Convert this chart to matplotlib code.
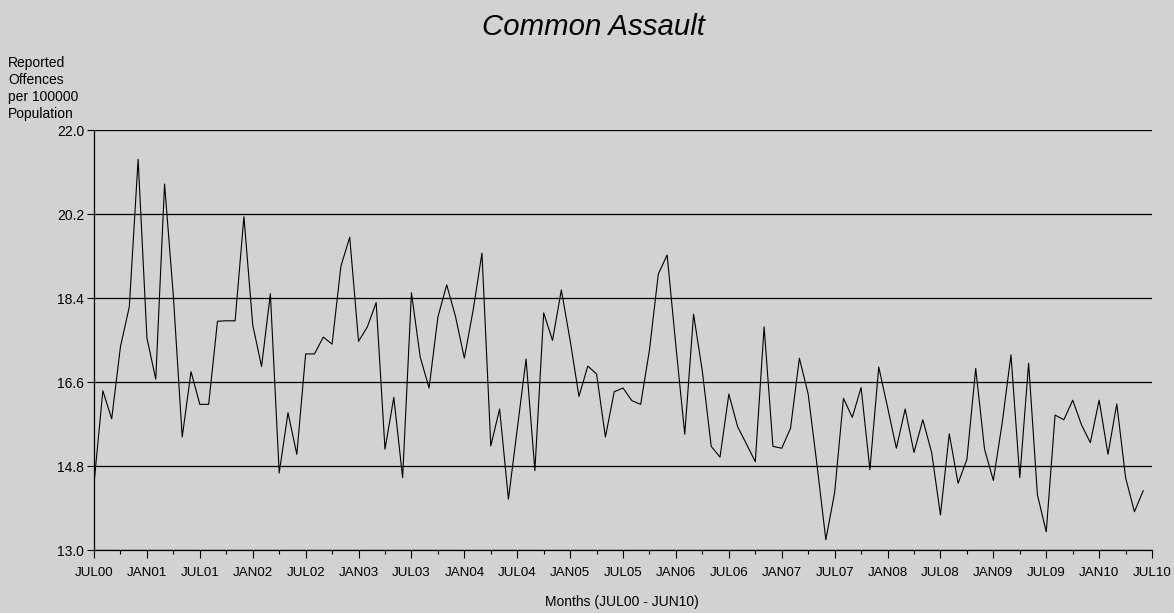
import numpy as np
import matplotlib
matplotlib.use('Agg')
import matplotlib.pyplot as plt

# monthly rates, JUL00 .. JUN10
rates = [
    14.44, 16.42, 15.82, 17.37, 18.22, 21.38, 17.55, 16.67, 20.85, 18.44,
    15.43, 16.83, 16.13, 16.13, 17.91, 17.92, 17.92, 20.15, 17.83, 16.94,
    18.50, 14.66, 15.95, 15.06, 17.21, 17.21, 17.57, 17.42, 19.09, 19.71,
    17.48, 17.79, 18.31, 15.17, 16.28, 14.56, 18.52, 17.14, 16.48, 18.00,
    18.69, 18.01, 17.12, 18.15, 19.37, 15.24, 16.03, 14.10, 15.60, 17.10,
    14.71, 18.09, 17.50, 18.58, 17.50, 16.30, 16.95, 16.78, 15.43, 16.40,
    16.48, 16.21, 16.13, 17.30, 18.92, 19.33, 17.37, 15.49, 18.06, 16.83,
    15.23, 15.00, 16.35, 15.65, 15.28, 14.90, 17.79, 15.23, 15.19, 15.62,
    17.12, 16.35, 14.83, 13.23, 14.24, 16.26, 15.85, 16.49, 14.73, 16.93,
    16.07, 15.19, 16.03, 15.10, 15.80, 15.10, 13.76, 15.50, 14.44, 14.95,
    16.90, 15.17, 14.50, 15.73, 17.19, 14.56, 17.01, 14.19, 13.40, 15.90,
    15.80, 16.22, 15.69, 15.31, 16.22, 15.06, 16.14, 14.56, 13.83, 14.28,
]
month_labels = ['JUL00', 'JAN01', 'JUL01', 'JAN02', 'JUL02', 'JAN03', 'JUL03',
                'JAN04', 'JUL04', 'JAN05', 'JUL05', 'JAN06', 'JUL06', 'JAN07',
                'JUL07', 'JAN08', 'JUL08', 'JAN09', 'JUL09', 'JAN10', 'JUL10']
y_ticks = [13.0, 14.8, 16.6, 18.4, 20.2, 22.0]

bg = '#d2d2d2'
plt.rcParams['font.family'] = ['Liberation Sans', 'DejaVu Sans']

fig = plt.figure(figsize=(11.74, 6.13), dpi=100, facecolor=bg)
ax = fig.add_axes([0.0801, 0.102, 0.9012, 0.6854], facecolor=bg)

months = np.arange(len(rates))
ax.plot(months, rates, color='black', lw=0.8)

ax.set_xlim(0, 120)
ax.set_ylim(13.0, 22.0)
ax.set_yticks(y_ticks)
ax.set_yticklabels([f'{v:.1f}' for v in y_ticks], fontsize=10)
ax.set_xticks(np.arange(0, 121, 6))
ax.set_xticklabels(month_labels, fontsize=9.6)
ax.set_xticks(np.arange(3, 120, 6), minor=True)
ax.tick_params(axis='x', which='major', length=6, width=0.8, pad=6)
ax.tick_params(axis='x', which='minor', length=3, width=0.8)
ax.tick_params(axis='y', length=5, width=0.8, pad=2)
ax.grid(axis='y', color='black', lw=0.9)
ax.set_axisbelow(True)

for s in ['top', 'right']:
    ax.spines[s].set_visible(False)
for s in ['left', 'bottom']:
    ax.spines[s].set_linewidth(0.9)

fig.text(0.5055, 0.956, 'Common Assault', ha='center', va='center',
         fontsize=21.2, style='italic')
fig.text(0.007, 0.908, 'Reported\nOffences\nper 100000\nPopulation',
         ha='left', va='top', fontsize=10, linespacing=1.25)
fig.text(0.5295, 1 - 602 / 613, 'Months (JUL00 - JUN10)', ha='center',
         va='center', fontsize=10)

fig.savefig('out.png', dpi=100, facecolor=bg)
